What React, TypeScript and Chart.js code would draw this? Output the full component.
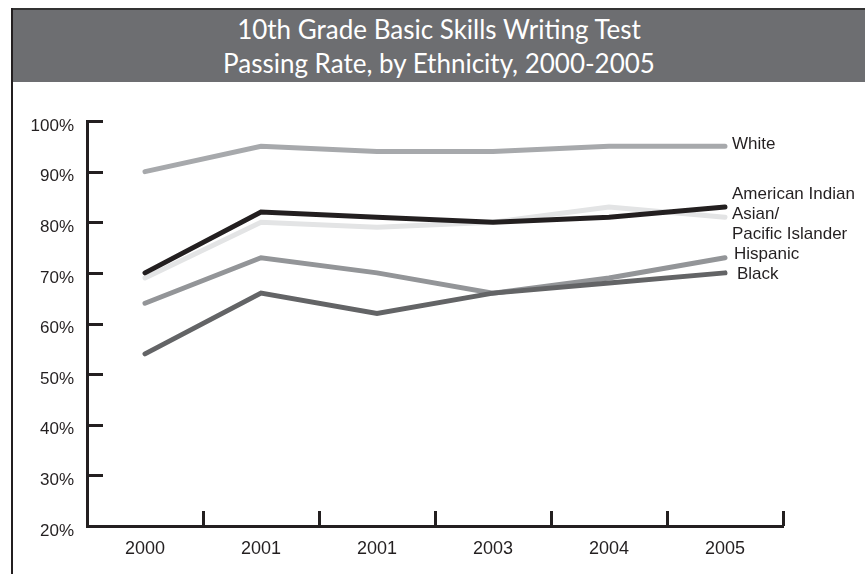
import React, { useEffect, useRef } from "react";
import { Chart, registerables } from "chart.js";

Chart.register(...registerables);

// ---- Data ----
const years = ["2000", "2001", "2001", "2003", "2004", "2005"];
const white = [90, 95, 94, 94, 95, 95];
const americanIndian = [70, 82, 81, 80, 81, 83];
const asianPacific = [69, 80, 79, 80, 83, 81];
const hispanic = [64, 73, 70, 66, 69, 73];
const black = [54, 66, 62, 66, 68, 70];

const yMin = 20;
const yMax = 100;
const yStep = 10;

const titleLines = [
  "10th Grade Basic Skills Writing Test",
  "Passing Rate, by Ethnicity, 2000-2005",
];

// end-of-line labels (text, value on the y scale where the label sits)
const endLabelText = ["White", "American Indian", "Asian/", "Pacific Islander", "Hispanic", "Black"];
const endLabelValue = [95.3, 85.6, 81.6, 77.7, 73.7, 69.8];
const endLabelShift = [7, 7, 7, 7, 9, 12];

const INK = "#231f20";
const FONT = '"Liberation Sans", Arial, sans-serif';

const axisMarks = {
  id: "axisMarks",
  afterDraw(chart: any) {
    const { ctx, chartArea, scales } = chart;
    const x = scales.x;
    const y = scales.y;
    ctx.save();
    ctx.strokeStyle = INK;
    ctx.lineWidth = 3;
    ctx.lineCap = "butt";
    // y ticks pointing inward
    y.ticks.forEach((_t: any, i: number) => {
      const py = Math.round(y.getPixelForTick(i)) + 0.5;
      if (i === 0) return;
      ctx.beginPath();
      ctx.moveTo(chartArea.left, py);
      ctx.lineTo(chartArea.left + 16, py);
      ctx.stroke();
    });
    // x ticks at category boundaries pointing up
    for (let i = 1; i <= years.length; i++) {
      const px = Math.round(x.getPixelForValue(i - 0.5)) + 0.5;
      ctx.beginPath();
      ctx.moveTo(px, chartArea.bottom);
      ctx.lineTo(px, chartArea.bottom - 15);
      ctx.stroke();
    }
    // end labels
    const lastX = x.getPixelForValue(years.length - 1);
    ctx.fillStyle = INK;
    ctx.font = `17px ${FONT}`;
    ctx.textAlign = "left";
    ctx.textBaseline = "middle";
    endLabelText.forEach((t, i) => {
      ctx.fillText(t, lastX + endLabelShift[i], y.getPixelForValue(endLabelValue[i]));
    });
    ctx.restore();
  },
};

export default function App() {
  const canvasRef = useRef<HTMLCanvasElement | null>(null);

  useEffect(() => {
    const canvas = canvasRef.current;
    if (!canvas) return;
    const mk = (label: string, data: number[], color: string, order: number) => ({
      label,
      data,
      borderColor: color,
      backgroundColor: color,
      borderWidth: 5,
      borderCapStyle: "round" as const,
      borderJoinStyle: "miter" as const,
      pointRadius: 0,
      tension: 0,
      fill: false,
      order,
    });
    const chart = new Chart(canvas, {
      type: "line",
      data: {
        labels: years,
        datasets: [
          mk("White", white, "#a7a9ac", 5),
          mk("Asian/Pacific Islander", asianPacific, "#e3e4e5", 4),
          mk("American Indian", americanIndian, INK, 1),
          mk("Hispanic", hispanic, "#939598", 3),
          mk("Black", black, "#636466", 2),
        ],
      },
      options: {
        animation: false,
        responsive: false,
        maintainAspectRatio: false,
        layout: { padding: { top: 39, right: 82, left: 0, bottom: 0 } },
        plugins: {
          legend: { display: false },
          tooltip: { enabled: false },
          title: { display: false },
        },
        scales: {
          x: {
            type: "category",
            offset: true,
            grid: { display: false, drawTicks: false },
            border: { display: true, color: INK, width: 3 },
            ticks: {
              font: { family: FONT, size: 18 },
              color: INK,
              padding: 12,
              maxRotation: 0,
              autoSkip: false,
            },
            afterFit: (s: any) => {
              s.height = 48;
            },
          },
          y: {
            min: yMin,
            max: yMax,
            grid: { display: false, drawTicks: false },
            border: { display: true, color: INK, width: 3 },
            ticks: {
              stepSize: yStep,
              callback: (v: any) => `${v}%`,
              font: { family: FONT, size: 17 },
              color: INK,
              padding: 13,
              labelOffset: 5,
            },
            afterFit: (s: any) => {
              s.width = 87;
            },
          },
        },
      },
      plugins: [axisMarks],
    });
    return () => chart.destroy();
  }, []);

  return (
    <div
      style={{
        position: "absolute",
        left: 0,
        top: 0,
        width: 865,
        height: 574,
        background: "#ffffff",
        overflow: "hidden",
      }}
    >
      <canvas
        ref={canvasRef}
        width={865}
        height={492}
        style={{ position: "absolute", left: 0, top: 82, width: 865, height: 492 }}
      />
      <div
        style={{
          position: "absolute",
          left: 13,
          top: 10,
          width: 852,
          height: 72,
          background: "#6d6e71",
        }}
      />
      <div
        style={{
          position: "absolute",
          left: 13,
          top: 12,
          width: 852,
          textAlign: "center",
          color: "#ffffff",
          fontFamily: "Lato, 'Open Sans', sans-serif",
          fontSize: 26,
          lineHeight: "34px",
        }}
      >
        {titleLines.map((t, i) => (
          <div key={i}>{t}</div>
        ))}
      </div>
      <div style={{ position: "absolute", left: 11, top: 8, width: 854, height: 2, background: "#333333" }} />
      <div style={{ position: "absolute", left: 11, top: 8, width: 2, height: 566, background: INK }} />
    </div>
  );
}
